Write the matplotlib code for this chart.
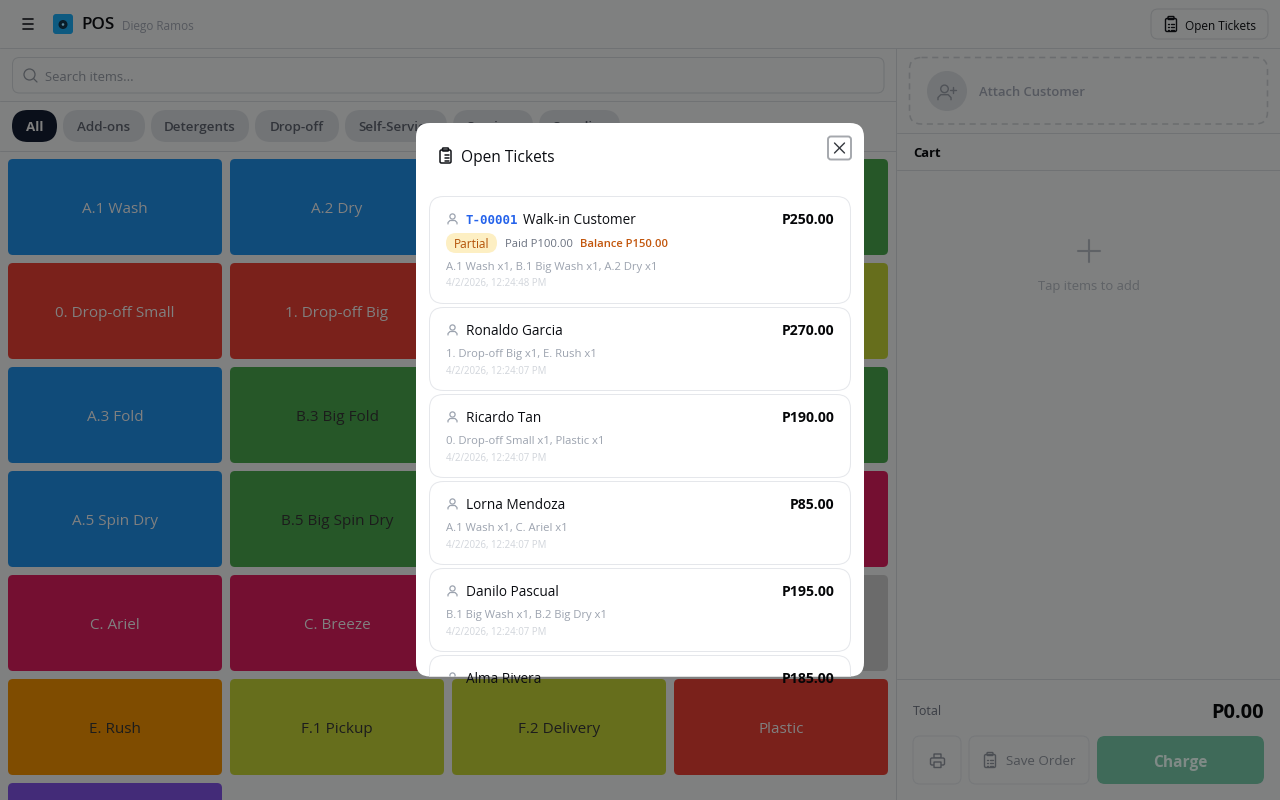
import matplotlib
matplotlib.use("Agg")
import matplotlib.pyplot as plt
from matplotlib.patches import FancyBboxPatch, Circle

plt.rcParams['font.family'] = ['Open Sans', 'DejaVu Sans']

# ---- data -----------------------------------------------------------
tile_labels = ["A.1 Wash", "A.2 Dry", "", "",
               "0. Drop-off Small", "1. Drop-off Big", "", "",
               "A.3 Fold", "B.3 Big Fold", "", "",
               "A.5 Spin Dry", "B.5 Big Spin Dry", "", "",
               "C. Ariel", "C. Breeze", "", "",
               "E. Rush", "F.1 Pickup", "F.2 Delivery", "Plastic",
               ""]
tile_colors = ["#104b79", "#104b79", "#104b79", "#265728",
               "#7a211b", "#7a211b", "#7a211b", "#666e1c",
               "#104b79", "#265728", "#265728", "#265728",
               "#104b79", "#265728", "#265728", "#740f31",
               "#740f31", "#740f31", "#740f31", "#6b6b6b",
               "#7f4c00", "#666e1c", "#666e1c", "#7a211b",
               "#432b78"]
tile_dark_text = ["E. Rush", "F.1 Pickup", "F.2 Delivery", "B.3 Big Fold", "B.5 Big Spin Dry"]
chip_labels = ["All", "Add-ons", "Detergents", "Drop-off", "Self-Service", "Services", "Supplies"]
chip_edges = [(12, 57), (63, 145), (151, 249), (255, 339), (345, 447), (453, 533), (539, 620)]
ticket_names = ["Walk-in Customer", "Ronaldo Garcia", "Ricardo Tan", "Lorna Mendoza", "Danilo Pascual", "Alma Rivera"]
ticket_totals = ["P250.00", "P270.00", "P190.00", "P85.00", "P195.00", "P185.00"]
ticket_items = ["A.1 Wash x1, B.1 Big Wash x1, A.2 Dry x1", "1. Drop-off Big x1, E. Rush x1",
                "0. Drop-off Small x1, Plastic x1", "A.1 Wash x1, C. Ariel x1",
                "B.1 Big Wash x1, B.2 Big Dry x1", ""]
ticket_times = ["4/2/2026, 12:24:48 PM"] + ["4/2/2026, 12:24:07 PM"] * 4 + [""]
ticket_tops = [196, 307, 394, 481, 568, 655]
ticket_bottoms = [303, 390, 477, 564, 651, 738]

# ---- canvas ---------------------------------------------------------
fig = plt.figure(figsize=(12.8, 8), dpi=100, facecolor="#7f8080")
ax = fig.add_axes([0, 0, 1, 1])
ax.set_xlim(0, 1280)
ax.set_ylim(800, 0)
ax.axis("off")


def rr(x0, y0, x1, y1, r, fc="none", ec="none", lw=0.72, z=2, ls="-"):
    p = FancyBboxPatch((x0 + r, y0 + r), x1 - x0 - 2 * r, y1 - y0 - 2 * r,
                       boxstyle=f"round,pad={r},rounding_size={r}",
                       fc=fc, ec=ec, lw=lw, ls=ls, zorder=z, mutation_aspect=1)
    ax.add_patch(p)
    return p


def t(x, y, s, px, c, w="normal", ha="left", z=3, family=None, clip=None):
    kw = {}
    if family:
        kw["family"] = family
    a = ax.text(x, y + 0.11 * px, s, fontsize=px * 0.72, color=c, fontweight=w, ha=ha, va="center", zorder=z, **kw)
    if clip is not None:
        a.set_clip_path(clip)
        a.set_clip_on(True)
    return a


def ln(xs, ys, c, lw=0.72, z=3, clip=None):
    l, = ax.plot(xs, ys, color=c, lw=lw, zorder=z, solid_capstyle="round")
    if clip is not None:
        l.set_clip_path(clip)
    return l


def clipboard(cx, cy, c, z=3, lw=1.0):
    rr(cx - 5.5, cy - 6, cx + 5.5, cy + 7, 1.5, ec=c, lw=lw, z=z)
    rr(cx - 3, cy - 8, cx + 3, cy - 5, 0.8, fc="none", ec=c, lw=lw, z=z)
    for dy in (-1, 2, 5):
        ln([cx - 3, cx - 2.5], [cy + dy, cy + dy], c, lw, z)
        ln([cx - 0.5, cx + 3], [cy + dy, cy + dy], c, lw, z)


def person(cx, cy, c, clip=None, z=7, lw=0.9, s=1.0):
    a = Circle((cx, cy - 2.5 * s), 2.6 * s, fc="none", ec=c, lw=lw, zorder=z)
    ax.add_patch(a)
    if clip is not None:
        a.set_clip_path(clip)
    ln([cx - 4.5 * s, cx - 4.5 * s, cx - 2.5 * s, cx + 2.5 * s, cx + 4.5 * s, cx + 4.5 * s],
       [cy + 5 * s, cy + 3.5 * s, cy + 1.5 * s, cy + 1.5 * s, cy + 3.5 * s, cy + 5 * s], c, lw, z, clip)


# ---- page frame -----------------------------------------------------
LINE = "#707274"
ln([0, 1280], [48, 48], LINE, 0.72, 1)
ln([896.3, 896.3], [48, 800], LINE, 0.72, 1)
ln([0, 896], [101, 101], LINE, 0.72, 1)
ln([0, 896], [151, 151], LINE, 0.72, 1)
ln([897, 1280], [133, 133], LINE, 0.72, 1)
ln([897, 1280], [170, 170], LINE, 0.72, 1)
ln([897, 1280], [679, 679], LINE, 0.72, 1)

# header
for y in (19, 24, 29):
    ln([23, 33], [y, y], "#101114", 1.2)
rr(53, 14, 73, 34, 3, fc="#0e5a80")
ax.add_patch(Circle((63, 24.5), 4.5, fc="#0a1c28", zorder=3))
ax.add_patch(Circle((63, 24.5), 1.3, fc="#5a8aa0", zorder=4))
t(81.5, 23.5, "POS", 17, "#07080a", "semibold")
t(122, 25, "Diego Ramos", 11.7, "#55585e")
rr(1151, 9, 1268, 39, 7, ec="#707274")
clipboard(1171, 24.5, "#0a0b0e")
t(1185, 25, "Open Tickets", 11.7, "#07080a", "medium")

# search
rr(12.5, 57.5, 884, 93, 7, ec="#6f7173")
ax.add_patch(Circle((29.5, 74.5), 5.5, fc="none", ec="#4d5055", lw=0.9, zorder=3))
ln([33.5, 37], [78.5, 82], "#4d5055", 0.9)
t(45, 76, "Search items...", 13, "#4f5257")

# chips
for lab, (x0, x1) in zip(chip_labels, chip_edges):
    active = lab == "All"
    rr(x0, 110, x1, 142, 16, fc="#0a0f1a" if active else "#727476")
    t((x0 + x1) / 2, 126, lab, 13.4, "#7f7f7f" if active else "#31343a",
      "bold" if active else "semibold", ha="center")

# product tiles
for i, (lab, col) in enumerate(zip(tile_labels, tile_colors)):
    x0 = 8 + 222 * (i % 4)
    y0 = 159 + 104 * (i // 4)
    rr(x0, y0, x0 + 214, y0 + 96, 5, fc=col)
    if lab:
        dark = lab in tile_dark_text
        t(x0 + 107, y0 + 48.5, lab, 15.2, "#1c1c1c" if dark else "#808080", ha="center")

# cart panel
rr(909.5, 57.5, 1267.5, 124, 12, ec="#6b6d6f", lw=1.1, ls=(0, (4, 3)))
ax.add_patch(Circle((947, 91), 20, fc="#727476", zorder=3))
person(944.5, 92.5, "#505358", z=4, lw=1.0, s=1.45)
ln([949.5, 956], [90, 90], "#505358", 1.0, 4)
ln([952.7, 952.7], [86.8, 93.2], "#505358", 1.0, 4)
t(979, 91, "Attach Customer", 13, "#55585f", "semibold")
t(913, 152, "Cart", 13, "#050608", "bold")
ln([1078, 1100], [251, 251], "#5f6266", 1.5)
ln([1089, 1089], [240, 262], "#5f6266", 1.5)
t(1088.5, 285, "Tap items to add", 13, "#5f6266", ha="center")
t(913, 710, "Total", 12.5, "#3a3d44", "medium")
t(1264, 711, "P0.00", 20, "#040506", "bold", ha="right")
rr(913, 736, 961, 784, 7, ec="#76787a")
rr(969, 736, 1089, 784, 7, ec="#76787a")
rr(1097, 736, 1264, 784, 8, fc="#3f6a59")
clipboard(990, 760.5, "#4c4f54")
t(1006, 760.5, "Save Order", 13.4, "#4c4f54", "medium")
t(1180.5, 761, "Charge", 15.5, "#7f8a86", "bold", ha="center")
# print icon
rr(934, 754, 941, 758, 0.3, ec="#4c4f54", lw=1.0, z=3)
rr(930.5, 758, 944.5, 765, 1.5, fc="#7f8080", ec="#4c4f54", lw=1.0, z=3)
rr(934, 762, 941, 767.5, 0.3, fc="#7f8080", ec="#4c4f54", lw=1.0, z=4)

# ---- modal ----------------------------------------------------------
modal = rr(416, 123, 864, 676.5, 14, fc="#ffffff", z=5)
clipboard(445.5, 156, "#111318", z=6, lw=1.1)
t(461, 156, "Open Tickets", 15.5, "#0b0d12", "medium", z=6)
rr(828, 136.5, 851, 159.5, 3, fc="#ffffff", ec="#a5a8ad", lw=1.4, z=6)
ln([834.5, 844.5], [143, 153], "#35383e", 1.0, 7)
ln([834.5, 844.5], [153, 143], "#35383e", 1.0, 7)

for i, (name, total) in enumerate(zip(ticket_names, ticket_totals)):
    top, bot = ticket_tops[i], ticket_bottoms[i]
    card = rr(429.5, top + 0.5, 850.5, bot + 0.5, 14, fc="#ffffff", ec="#e5e7eb", z=6)
    card.set_clip_path(modal)
    person(452.5, top + 23, "#9ca3af", clip=modal)
    nx = 466
    if i == 0:
        t(466, top + 23, "T-00001", 12.4, "#2563eb", "bold", z=7, family="DejaVu Sans Mono")
        nx = 523
    t(nx, top + 23.3, name, 13.6, "#0b0d12", "medium", z=7, clip=modal)
    t(834.5, top + 22.8, total, 14, "#050608", "bold", ha="right", z=7, clip=modal)
    dy = 0
    if i == 0:
        rr(446, top + 37, 497, top + 57, 10, fc="#fdefc3", z=7)
        t(471.5, top + 47.3, "Partial", 12, "#b45309", "medium", ha="center", z=8)
        t(505, top + 47.3, "Paid P100.00", 11.3, "#6b7280", z=7)
        t(580, top + 47.3, "Balance P150.00", 11.2, "#c2560c", "semibold", z=7)
        dy = 23.5
    t(446, top + 46.5 + dy, ticket_items[i], 11.3, "#9ca3af", z=7, clip=modal)
    t(446, top + 63 + dy, ticket_times[i], 9.6, "#d1d5db", z=7, clip=modal)

fig.savefig("out.png", dpi=100, facecolor=fig.get_facecolor())
